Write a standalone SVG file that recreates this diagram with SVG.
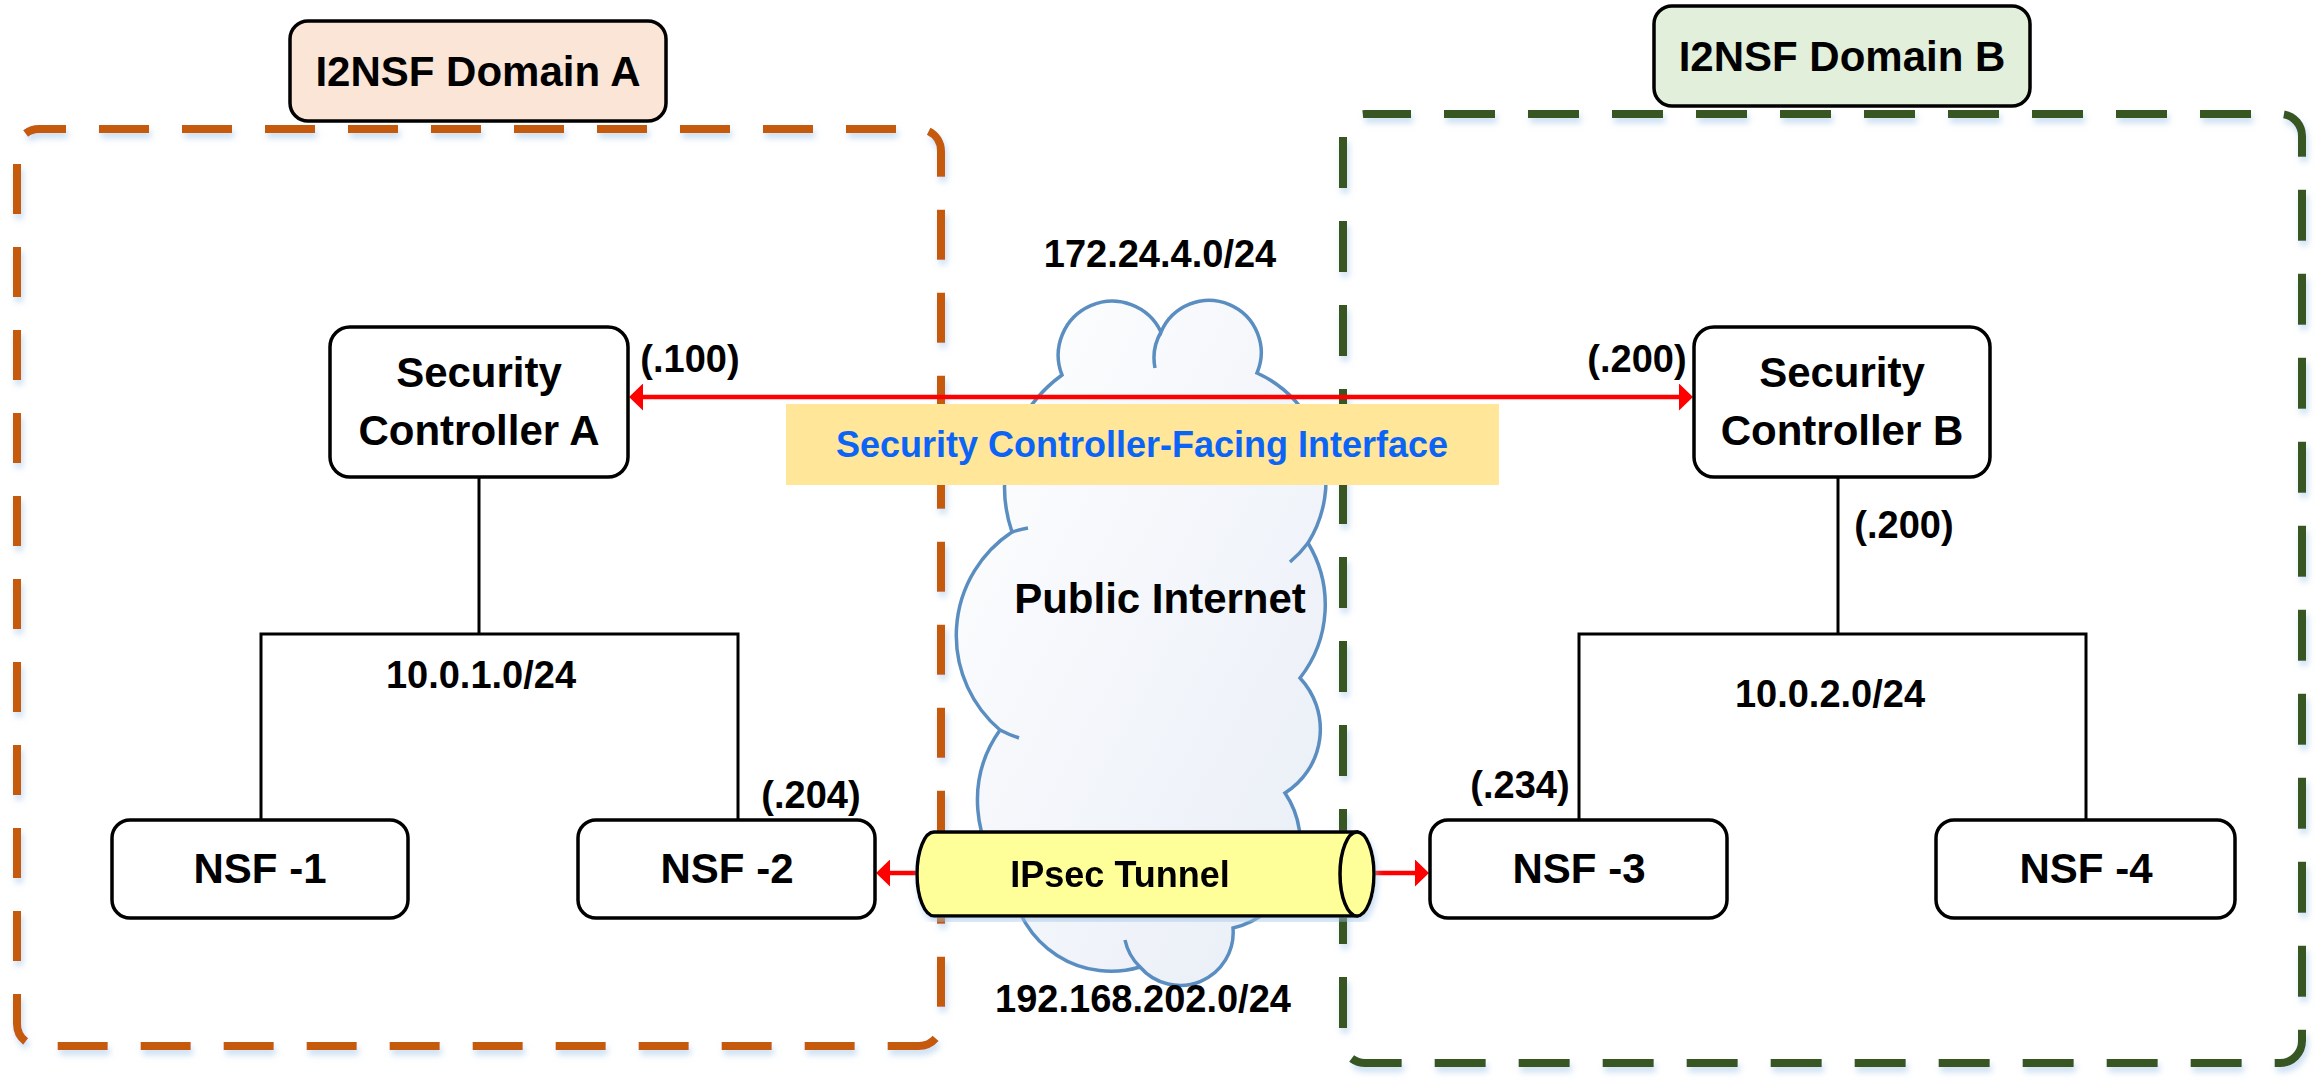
<svg xmlns="http://www.w3.org/2000/svg" width="2318" height="1080" viewBox="0 0 2318 1080">
  <defs>
    <style>
      .dom-a { fill: none; stroke: #C55A11; stroke-width: 8; stroke-dasharray: 50 33; }
      .dom-b { fill: none; stroke: #385723; stroke-width: 8; stroke-dasharray: 51 33; }
      .tag { stroke: #000; stroke-width: 3.5; }
      .node { fill: #FFFFFF; stroke: #000; stroke-width: 3.5; }
      .wire { fill: none; stroke: #000; stroke-width: 3; }
      .red { fill: none; stroke: #FF0000; stroke-width: 4.5; }
      .cloud { stroke: #5A8EC1; stroke-width: 3.5; }
      .t { font-family: "Liberation Sans", Arial, sans-serif; font-weight: bold; fill: #000; text-anchor: middle; }
      .t42 { font-size: 42px; }
      .t38 { font-size: 38px; }
      .t36 { font-size: 36px; }
      .blue { fill: #0B64F5; }
    </style>
    <filter id="glow" x="-5%" y="-5%" width="110%" height="112%">
      <feDropShadow dx="2" dy="5" stdDeviation="3" flood-color="#9DC3E6" flood-opacity="0.55"/>
    </filter>
    <linearGradient id="cloudFill" x1="0" y1="0" x2="1" y2="1">
      <stop offset="0" stop-color="#FFFFFF"/>
      <stop offset="1" stop-color="#E8EDF6"/>
    </linearGradient>
    <marker id="head" markerUnits="userSpaceOnUse" viewBox="0 0 14 27" markerWidth="14" markerHeight="27" refX="11" refY="13.5" orient="auto-start-reverse">
      <path d="M0,0 L14,13.5 L0,27 Z" fill="#FF0000"/>
    </marker>
  </defs>

  <!-- domain boundaries -->
  <g id="domain-a-border">
    <rect class="dom-a" x="17" y="129" width="924" height="917" rx="22" stroke-dashoffset="23" filter="url(#glow)"/>
  </g>
  <g id="domain-b-border">
    <rect class="dom-b" x="1343" y="114" width="959" height="949" rx="22" stroke-dashoffset="5" filter="url(#glow)"/>
  </g>

  <!-- domain titles -->
  <g id="domain-a-title">
    <rect class="tag" x="290" y="21" width="376" height="100" rx="18" fill="#FBE5D6"/>
    <text class="t t42" x="478" y="86">I2NSF Domain A</text>
  </g>
  <g id="domain-b-title">
    <rect class="tag" x="1654" y="6" width="376" height="100" rx="18" fill="#E2EFDA"/>
    <text class="t t42" x="1842" y="71">I2NSF Domain B</text>
  </g>

  <!-- public internet cloud -->
  <g id="public-internet">
    <path class="cloud" fill="url(#cloudFill)" d="M1062,375 A54,54 0 0 1 1161,332 A52,52 0 0 1 1257,373 A118,118 0 0 1 1308,543 A119,119 0 0 1 1300,678 A75,75 0 0 1 1285,793 A88,88 0 0 1 1233,928 A53,53 0 0 1 1140,967 A100,100 0 0 1 1012,885 A121,121 0 0 1 1000,730 A124,124 0 0 1 1012,532 A139,139 0 0 1 1062,375 Z"/>
    <path class="cloud" fill="none" d="M1155,368 A52,52 0 0 1 1161,332 M1308,543 A118,118 0 0 1 1290,562 M1140,967 A53,53 0 0 1 1125,940 M1019,738 A124,124 0 0 1 1000,730 M1012,532 A124,124 0 0 1 1028,528"/>
    <text class="t t42" x="1160" y="613">Public Internet</text>
    <text class="t t38" x="1160" y="267">172.24.4.0/24</text>
    <text class="t t38" x="1143" y="1012">192.168.202.0/24</text>
  </g>

  <!-- LAN wiring -->
  <g id="connectors">
    <path class="wire" d="M479,477 V634 M261,820 V634 H738 V820"/>
    <path class="wire" d="M1838,477 V634 M1579,820 V634 H2086 V820"/>
    <line class="red" x1="632" y1="397" x2="1690" y2="397" marker-start="url(#head)" marker-end="url(#head)"/>
    <line class="red" x1="919" y1="873" x2="879" y2="873" marker-end="url(#head)"/>
    <line class="red" x1="1373" y1="873" x2="1426" y2="873" marker-end="url(#head)"/>
  </g>

  <!-- controllers -->
  <g id="security-controller-a">
    <rect class="node" x="330" y="327" width="298" height="150" rx="20"/>
    <text class="t t42" x="479" y="387">Security</text>
    <text class="t t42" x="479" y="445">Controller A</text>
  </g>
  <g id="security-controller-b">
    <rect class="node" x="1694" y="327" width="296" height="150" rx="20"/>
    <text class="t t42" x="1842" y="387">Security</text>
    <text class="t t42" x="1842" y="445">Controller B</text>
  </g>

  <!-- NSFs -->
  <g id="nsf-1">
    <rect class="node" x="112" y="820" width="296" height="98" rx="18"/>
    <text class="t t42" x="260" y="883">NSF -1</text>
  </g>
  <g id="nsf-2">
    <rect class="node" x="578" y="820" width="297" height="98" rx="18"/>
    <text class="t t42" x="727" y="883">NSF -2</text>
  </g>
  <g id="nsf-3">
    <rect class="node" x="1430" y="820" width="297" height="98" rx="18"/>
    <text class="t t42" x="1579" y="883">NSF -3</text>
  </g>
  <g id="nsf-4">
    <rect class="node" x="1936" y="820" width="299" height="98" rx="18"/>
    <text class="t t42" x="2086" y="883">NSF -4</text>
  </g>

  <!-- IPsec tunnel cylinder -->
  <g id="ipsec-tunnel" filter="url(#glow)">
    <path class="tag" fill="#FFFF99" d="M1357,832 H934 A17,42 0 0 0 934,916 H1357 Z"/>
    <ellipse class="tag" fill="#FFFF99" cx="1357" cy="874" rx="17" ry="42"/>
    <text class="t t36" x="1120" y="887">IPsec Tunnel</text>
  </g>

  <!-- interface label -->
  <g id="controller-facing-interface">
    <rect x="786" y="404" width="713" height="81" fill="#FFE699"/>
    <text class="t t36 blue" x="1142" y="457">Security Controller-Facing Interface</text>
  </g>

  <!-- addresses -->
  <g id="addresses">
    <text class="t t38" x="690" y="372">(.100)</text>
    <text class="t t38" x="1637" y="372">(.200)</text>
    <text class="t t38" x="1904" y="538">(.200)</text>
    <text class="t t38" x="811" y="808">(.204)</text>
    <text class="t t38" x="1520" y="798">(.234)</text>
    <text class="t t38" x="481" y="688">10.0.1.0/24</text>
    <text class="t t38" x="1830" y="707">10.0.2.0/24</text>
  </g>
</svg>
